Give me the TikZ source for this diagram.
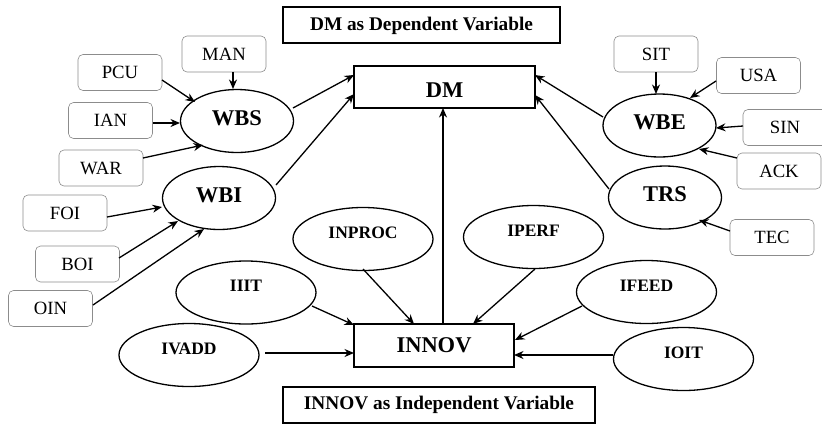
\documentclass[tikz,border=0pt]{standalone}
\usepackage{fontspec}
\setmainfont{Liberation Serif}
\usetikzlibrary{shapes.geometric,arrows.meta}
\tikzset{
  lbox/.style={draw=black!45, line width=0.6pt, rounded corners=5pt,
    minimum width=84pt, minimum height=36pt, inner sep=0pt,
    font=\fontsize{18.7}{20}\selectfont},
  bigell/.style={ellipse, draw, line width=1.3pt, inner sep=0pt,
    minimum width=113pt, minimum height=63pt, text depth=6pt,
    font=\fontsize{22.5}{24}\selectfont\bfseries},
  smallell/.style={ellipse, draw, line width=1.3pt, inner sep=0pt,
    minimum width=140pt, minimum height=63pt, text depth=13pt,
    font=\fontsize{17.5}{19}\selectfont\bfseries},
  mainbox/.style={draw, line width=1.4pt, inner sep=0pt,
    font=\fontsize{22.5}{24}\selectfont\bfseries},
  titlebox/.style={draw, line width=1.4pt, inner sep=0pt,
    font=\fontsize{19.3}{21}\selectfont\bfseries},
  arr/.style={-{Stealth[length=9.5pt,width=8pt]}, line width=1.3pt},
}
\newcommand{\off}[3]{([shift={(#2,#3)}]#1.center)}
\begin{document}
\begin{tikzpicture}[x=1pt,y=-1pt]
\useasboundingbox (0,0) rectangle (822,424);

% titles
\node[titlebox, minimum width=277pt, minimum height=36pt, text height=16pt] (t1) at (421.5,25) {DM as Dependent Variable};
\node[titlebox, minimum width=312pt, minimum height=36pt] (t2) at (439,405) {INNOV as Independent Variable};

% core constructs
\node[mainbox, minimum width=181pt, minimum height=42pt, text height=20.5pt] (DM) at (444.5,87) {DM};
\node[mainbox, minimum width=160pt, minimum height=43pt] (INNOV) at (434,345.5) {INNOV};

% left side
\node[bigell] (WBS) at (237,121) {WBS};
\node[bigell] (WBI) at (219,198) {WBI};
\node[lbox] (MAN) at (224,54) {MAN};
\node[lbox] (PCU) at (120,72.5) {PCU};
\node[lbox] (IAN) at (110.5,120.5) {IAN};
\node[lbox] (WAR) at (101,168) {WAR};
\node[lbox] (FOI) at (65,213) {FOI};
\node[lbox] (BOI) at (77.5,264) {BOI};
\node[lbox] (OIN) at (50.5,308.5) {OIN};

% right side
\node[bigell] (WBE) at (659.5,125.5) {WBE};
\node[bigell] (TRS) at (665,197.5) {TRS};
\node[lbox] (SIT) at (656,54) {SIT};
\node[lbox] (USA) at (758.5,75.5) {USA};
\node[lbox] (SIN) at (785,127.5) {SIN};
\node[lbox] (ACK) at (779,171) {ACK};
\node[lbox] (TEC) at (772,237.5) {TEC};

% innovation dimensions
\node[smallell] (INPROC) at (363,239) {INPROC};
\node[smallell] (IPERF) at (533.5,237) {IPERF};
\node[smallell] (IIIT) at (246,292.5) {IIIT};
\node[smallell] (IFEED) at (646.5,292) {IFEED};
\node[smallell] (IVADD) at (189,355) {IVADD};
\node[smallell] (IOIT) at (683.5,359) {IOIT};

% indicators -> WBS / WBI
\draw[arr] \off{MAN}{9}{18} -- \off{WBS}{-4}{-32};
\draw[arr] \off{PCU}{42}{7.5} -- \off{WBS}{-42}{-19};
\draw[arr] \off{IAN}{42.5}{2.5} -- \off{WBS}{-57}{2};
\draw[arr] \off{WAR}{42}{-10} -- \off{WBS}{-34}{24};
\draw[arr] \off{FOI}{42}{4} -- \off{WBI}{-57}{9};
\draw[arr] \off{BOI}{41.5}{-6} -- \off{WBI}{-41}{23};
\draw[arr] \off{OIN}{42.5}{-3.5} -- \off{WBI}{-15}{31};

% indicators -> WBE / TRS
\draw[arr] \off{SIT}{0}{18} -- \off{WBE}{-3.5}{-31.5};
\draw[arr] \off{USA}{-42.5}{5.5} -- \off{WBE}{30.5}{-27.5};
\draw[arr] \off{SIN}{-42}{-1.5} -- \off{WBE}{56.5}{2.5};
\draw[arr] \off{ACK}{-42}{-13} -- \off{WBE}{39.5}{23.5};
\draw[arr] \off{TEC}{-42}{-6.5} -- \off{TRS}{34}{22.5};

% constructs -> DM
\draw[arr] \off{WBS}{56}{-13} -- \off{DM}{-90.5}{-12};
\draw[arr] \off{WBI}{57}{-13} -- \off{DM}{-90.5}{7};
\draw[arr] \off{WBE}{-56.5}{-8.5} -- \off{DM}{90.5}{-12};
\draw[arr] \off{TRS}{-56}{-8.5} -- \off{DM}{90.5}{8};
\draw[arr] \off{INNOV}{9}{-21.5} -- \off{DM}{-1.5}{21};

% dimensions -> INNOV
\draw[arr] \off{INPROC}{0}{30} -- \off{INNOV}{-20}{-21.5};
\draw[arr] \off{IPERF}{1.5}{32} -- \off{INNOV}{39}{-21.5};
\draw[arr] \off{IIIT}{66}{13.5} -- \off{INNOV}{-80}{-20.5};
\draw[arr] \off{IVADD}{76}{-2} -- \off{INNOV}{-80}{7.5};
\draw[arr] \off{IFEED}{-64.5}{14} -- \off{INNOV}{81}{-5.5};
\draw[arr] \off{IOIT}{-70.5}{-4} -- \off{INNOV}{80}{9.5};
\end{tikzpicture}
\end{document}
